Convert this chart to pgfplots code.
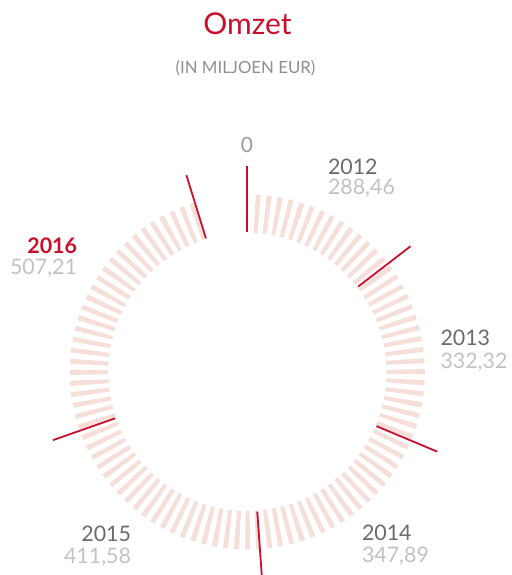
\documentclass[border=0pt]{standalone}
\usepackage{pgfplots}
\pgfplotsset{compat=1.18}
\usepackage{fontspec}
\setmainfont{Lato}
\definecolor{redc}{HTML}{C8102E}
\definecolor{pinkc}{HTML}{F6DFD9}
\definecolor{yearc}{HTML}{6A6A6A}
\definecolor{valc}{HTML}{C2C2C2}
\definecolor{zeroc}{HTML}{9A9A9A}
\definecolor{subc}{HTML}{8E8E8E}
\begin{document}
\begin{tikzpicture}[every node/.style={inner sep=0pt, outer sep=0pt}]
\begin{axis}[x=1pt,y=1pt,xmin=0,xmax=511,ymin=0,ymax=575,hide axis,clip=false]
\coordinate (ll) at (axis cs:0,0);
\coordinate (ur) at (axis cs:511,575);
% tick ring (one tick per 20 units, up to the total)
\draw[pinkc, line width=38.5pt, dash pattern=on 4.5pt off 5.443pt]
  (axis cs:{247.3+158.25*sin(2.685)},{203+158.25*cos(2.685)})
  arc[start angle={90-2.685}, end angle={90-342.72}, radius=158.25pt];
% cumulative boundaries
\addplot[redc, line width=1.8pt] table[x expr={247.1+\thisrow{r}*sin(\thisrow{cum}*0.18162)}, y expr={203+\thisrow{r}*cos(\thisrow{cum}*0.18162)}] {
cum r
0 140
0 206
};
\addplot[redc, line width=1.8pt] table[x expr={247.3+\thisrow{r}*sin(\thisrow{cum}*0.18162)}, y expr={203+\thisrow{r}*cos(\thisrow{cum}*0.18162)}] {
cum r
288.46 140
288.46 206
};
\addplot[redc, line width=1.8pt] table[x expr={247.3+\thisrow{r}*sin(\thisrow{cum}*0.18162)}, y expr={203+\thisrow{r}*cos(\thisrow{cum}*0.18162)}] {
cum r
620.78 140
620.78 206
};
\addplot[redc, line width=1.8pt] table[x expr={247.3+\thisrow{r}*sin(\thisrow{cum}*0.18162)}, y expr={203+\thisrow{r}*cos(\thisrow{cum}*0.18162)}] {
cum r
968.67 140
968.67 206
};
\addplot[redc, line width=1.8pt] table[x expr={247.3+\thisrow{r}*sin(\thisrow{cum}*0.18162)}, y expr={203+\thisrow{r}*cos(\thisrow{cum}*0.18162)}] {
cum r
1380.25 140
1380.25 206
};
\addplot[redc, line width=1.8pt] table[x expr={247.3+\thisrow{r}*sin(\thisrow{cum}*0.18162)}, y expr={203+\thisrow{r}*cos(\thisrow{cum}*0.18162)}] {
cum r
1887.46 140
1887.46 206
};
% texts
\node[anchor=base, text=redc, font=\fontsize{30}{32}\selectfont] at (axis cs:247.5,540) {Omzet};
\node[anchor=base, text=subc, font=\fontsize{16.8}{18}\selectfont] at (axis cs:245.5,501) {(IN MILJOEN EUR)};
\node[anchor=base, text=zeroc, font=\fontsize{21}{22}\selectfont] at (axis cs:247,422.3) {0};
\node[anchor=base west, text=yearc, font=\fontsize{21.4}{22}\selectfont] at (axis cs:328,400) {2012};
\node[anchor=base west, text=valc, font=\fontsize{21.4}{22}\selectfont] at (axis cs:328,380.7) {288,46};
\node[anchor=base west, text=yearc, font=\fontsize{21.4}{22}\selectfont] at (axis cs:440.5,229) {2013};
\node[anchor=base west, text=valc, font=\fontsize{21.4}{22}\selectfont] at (axis cs:440.5,206.7) {332,32};
\node[anchor=base west, text=yearc, font=\fontsize{21.4}{22}\selectfont] at (axis cs:362,34) {2014};
\node[anchor=base west, text=valc, font=\fontsize{21.4}{22}\selectfont] at (axis cs:362,12.3) {347,89};
\node[anchor=base east, text=yearc, font=\fontsize{21.4}{22}\selectfont] at (axis cs:131,33.3) {2015};
\node[anchor=base east, text=valc, font=\fontsize{21.4}{22}\selectfont] at (axis cs:131,11.7) {411,58};
\node[anchor=base east, text=redc, font=\fontsize{21.4}{22}\selectfont\bfseries] at (axis cs:77,321.7) {2016};
\node[anchor=base east, text=valc, font=\fontsize{21.4}{22}\selectfont] at (axis cs:77,300) {507,21};
\end{axis}
\pgfresetboundingbox
\path[use as bounding box] (ll) rectangle (ur);
\end{tikzpicture}
\end{document}
